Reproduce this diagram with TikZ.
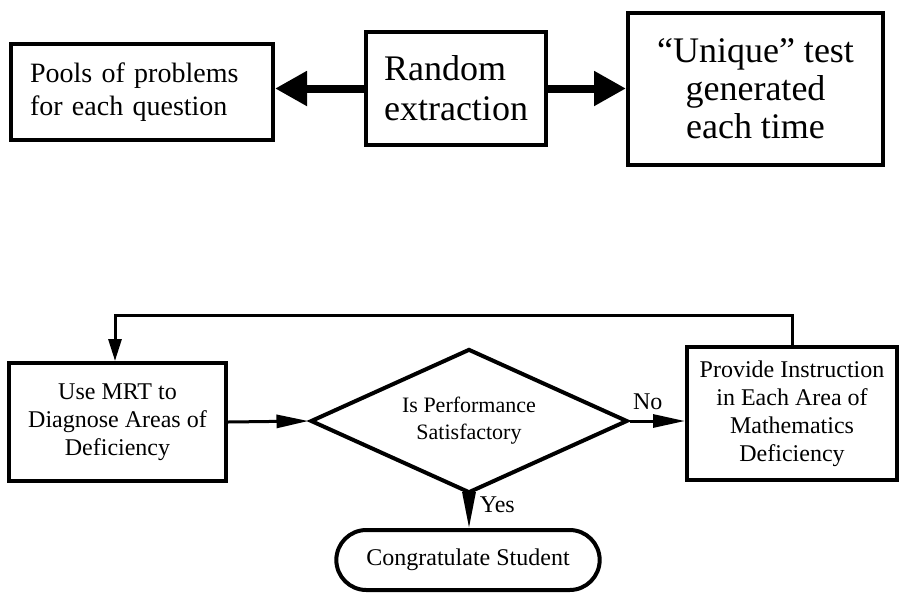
\documentclass[tikz,border=0pt]{standalone}
\usepackage{fontspec}
\setmainfont{Liberation Serif}
\usetikzlibrary{arrows.meta,shapes.geometric,shapes.misc}

\tikzset{
	box/.style={draw,rectangle,line width=4pt,inner sep=0pt,align=center},
	flow/.style={line width=3pt,-{Triangle[length=32pt,width=13pt]}},
	bigflow/.style={line width=8pt,-{Triangle[length=32pt,width=33pt]}},
}

\begin{document}
\begin{tikzpicture}[x=1pt,y=-1pt]
	\useasboundingbox (0,0) rectangle (899,592);
	
	%TEST GENERATION
	\node[box,align=left,text width=224pt,inner xsep=19pt,minimum height=96pt,
		font=\fontsize{28}{33}\selectfont] (pools) at (142,92)
		{Pools of problems\\for each question};
	\node[box,align=left,inner xsep=18pt,minimum height=113pt,
		font=\fontsize{36}{40}\selectfont] (random) at (456,88.5)
		{Random\\extraction};
	\node[box,minimum width=255pt,minimum height=152pt,
		font=\fontsize{36}{38}\selectfont] (unique) at (755.5,89)
		{``Unique'' test\\generated\\each time};
	%
	\draw[bigflow] (random.west) -- (random.west -| pools.east);
	\draw[bigflow] (random.east) -- (random.east -| unique.west);
	
	%DIAGNOSIS LOOP
	\node[box,minimum width=217pt,minimum height=118pt,
		font=\fontsize{24}{28}\selectfont] (mrt) at (117.5,422)
		{Use MRT to\\Diagnose Areas of\\Deficiency};
	\node[draw,diamond,aspect=2.2,line width=4pt,inner sep=0pt,minimum width=317pt,minimum height=144pt,
		align=center,font=\fontsize{22}{27}\selectfont] (check) at (469,421)
		{Is Performance\\Satisfactory};
	\node[box,minimum width=210pt,minimum height=133pt,
		font=\fontsize{24}{28}\selectfont] (provide) at (792,413.5)
		{Provide Instruction\\in Each Area of\\Mathematics\\Deficiency};
	\node[draw,rounded rectangle,line width=4pt,minimum width=270pt,minimum height=60pt,
		font=\fontsize{24}{28}\selectfont] (congrat) at (468,560)
		{Congratulate Student};
	%
	\coordinate (back) at (115,315);
	\draw[flow] (mrt.east) -- (check.west);
	\draw[flow] (check.east) -- node[above=6pt,pos=0.33,font=\fontsize{24}{28}\selectfont] (no) {No}
		(check.east -| provide.west);
	\draw[flow,-{Triangle[length=36pt,width=13pt]}] (check.south) --
		node[right=6pt,pos=0.3,font=\fontsize{24}{28}\selectfont] (yes) {Yes} (check.south |- congrat.north);
	\draw[flow,-{Triangle[length=22pt,width=13pt]}] (provide.north) |- (back) -- (back |- mrt.north);
\end{tikzpicture}
\end{document}
